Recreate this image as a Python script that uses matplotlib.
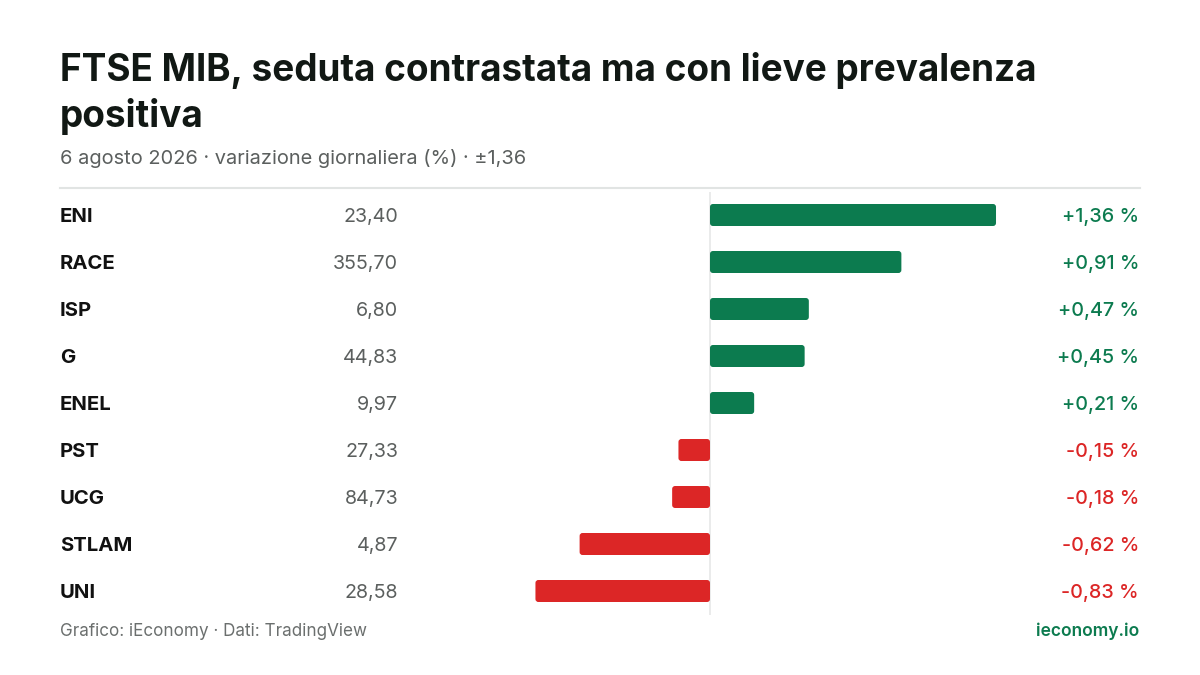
import matplotlib
matplotlib.use("Agg")
import matplotlib.pyplot as plt
from matplotlib.patches import FancyBboxPatch
from matplotlib.transforms import blended_transform_factory

plt.rcParams['font.family'] = ['Inter', 'DejaVu Sans']

tickers = ["ENI", "RACE", "ISP", "G", "ENEL", "PST", "UCG", "STLAM", "UNI"]
prices = [23.40, 355.70, 6.80, 44.83, 9.97, 27.33, 84.73, 4.87, 28.58]
changes = [1.36, 0.91, 0.47, 0.45, 0.21, -0.15, -0.18, -0.62, -0.83]

title = "FTSE MIB, seduta contrastata ma con lieve prevalenza\npositiva"
subtitle = "6 agosto 2026 · variazione giornaliera (%) · ±1,36"
source = "Grafico: iEconomy · Dati: TradingView"
brand = "ieconomy.io"

GREEN = "#0c7b4f"
RED = "#dc2626"
W, H = 1200, 675

fig = plt.figure(figsize=(12, 6.75), dpi=100)
fig.patch.set_facecolor("white")

# axes spans the full plot band, zero line at x=710 px, 1 % ~ 210 px
px_per_pct = 210.3
zero_px = 710
row_px = 47
first_row_px = 215
top_px, bot_px = 192, 615
ax = fig.add_axes([60 / W, 1 - bot_px / H, 1080 / W, (bot_px - top_px) / H])
ax.set_xlim((60 - zero_px) / px_per_pct, (1140 - zero_px) / px_per_pct)
ax.set_ylim((bot_px - first_row_px) / row_px, (top_px - first_row_px) / row_px)
ax.axis("off")

bar_h = 22 / row_px
aspect = px_per_pct / row_px
for i, v in enumerate(changes):
    x0 = min(0, v)
    box = FancyBboxPatch((x0, i - bar_h / 2), abs(v), bar_h,
                         boxstyle="round,pad=0,rounding_size=0.014",
                         mutation_aspect=aspect,
                         facecolor=GREEN if v >= 0 else RED,
                         edgecolor="none", zorder=2)
    ax.add_patch(box)

ax.axvline(0, color="#e6e8e7", lw=1.2, zorder=1)

tr = blended_transform_factory(fig.transFigure, ax.transData)
dy = 2 / row_px
for i, (t, p, v) in enumerate(zip(tickers, prices, changes)):
    ax.text(60 / W, i + dy, t, transform=tr, ha="left", va="center",
            fontsize=14.6, fontweight="bold", color="#111111")
    ax.text(398 / W, i + dy, f"{p:.2f}".replace(".", ","), transform=tr,
            ha="right", va="center", fontsize=14.2, color="#5b5f5e")
    s = f"{v:+.2f}".replace(".", ",") + " %"
    ax.text(1139 / W, i + dy, s, transform=tr, ha="right", va="center",
            fontsize=14.2, fontweight="medium",
            color=GREEN if v >= 0 else RED)

fig.text(60 / W, 1 - 52 / H, title, ha="left", va="top", fontsize=26.6,
         fontweight="bold", color="#111814", linespacing=1.3)
fig.text(60 / W, 1 - 158 / H, subtitle, ha="left", va="center",
         fontsize=14.4, color="#5b5f5e")
fig.add_artist(plt.Line2D([60 / W, 1140 / W], [1 - 188 / H, 1 - 188 / H],
                          color="#e1e4e3", lw=1.5))
fig.text(60 / W, 1 - 631 / H, source, ha="left", va="center",
         fontsize=12.3, color="#6b6f6e")
fig.text(1139 / W, 1 - 631 / H, brand, ha="right", va="center",
         fontsize=12.5, fontweight="semibold", color=GREEN)

fig.savefig("out.png", dpi=100, facecolor="white")
